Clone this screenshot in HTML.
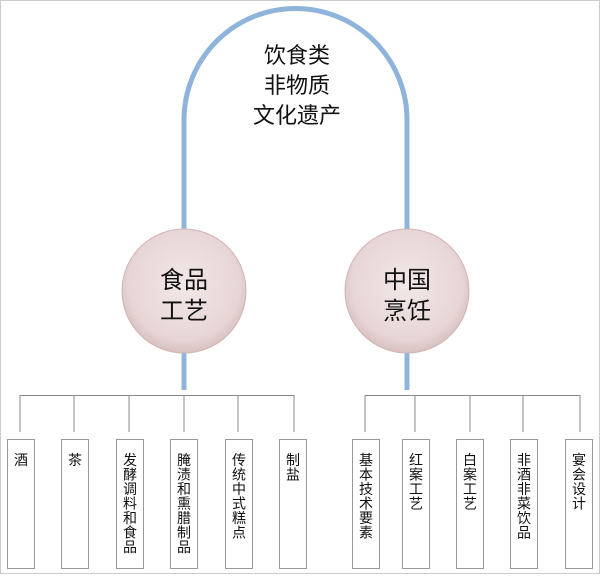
<!DOCTYPE html>
<html><head><meta charset="utf-8"><style>
body{margin:0;background:#fff;}
.t{font-family:"Liberation Sans","Noto Sans CJK SC",sans-serif;}
</style></head><body>
<svg width="600" height="574" xmlns="http://www.w3.org/2000/svg" class="t">
<defs><radialGradient id="g" cx="50%" cy="45%" r="55%"><stop offset="0" stop-color="#f2e8e8"/><stop offset="0.8" stop-color="#e8d6d6"/><stop offset="1" stop-color="#d8c0c0"/></radialGradient></defs>
<rect x="0.5" y="0.5" width="599" height="573" fill="#fff" stroke="#ccc"/>
<path d="M184,240 V120 A111.5,111.5 0 0 1 407,120 V240" fill="none" stroke="#8fb4dc" stroke-width="5"/>
<line x1="184" y1="350" x2="184" y2="390" stroke="#8fb4dc" stroke-width="5"/>
<line x1="407" y1="350" x2="407" y2="390" stroke="#8fb4dc" stroke-width="5"/>
<g font-size="22" text-anchor="middle" fill="#111">
<text x="297" y="63">饮食类</text><text x="297" y="93">非物质</text><text x="297" y="123">文化遗产</text></g>
<circle cx="184" cy="291" r="62" fill="url(#g)" stroke="#d0b4b4"/>
<circle cx="407" cy="291" r="62" fill="url(#g)" stroke="#d0b4b4"/>
<g font-size="24" text-anchor="middle" fill="#111">
<text x="184" y="288">食品</text><text x="184" y="319">工艺</text>
<text x="407" y="288">中国</text><text x="407" y="319">烹饪</text></g>
<g stroke="#888" stroke-width="1" fill="none">
<path d="M20,395.5 H294 M20,395 V432 M74,395 V432 M129,395 V432 M184,395 V432 M238,395 V432 M294,395 V432"/>
<path d="M365,395.5 H580 M365,395 V432 M415,395 V432 M470,395 V432 M523,395 V432 M580,395 V432"/>
</g>
<g fill="#fff" stroke="#999">
<rect x="7.5" y="439.5" width="27" height="129"/><rect x="61.5" y="439.5" width="27" height="129"/>
<rect x="116.5" y="439.5" width="27" height="129"/><rect x="170.5" y="439.5" width="27" height="129"/>
<rect x="225.5" y="439.5" width="27" height="129"/><rect x="279.5" y="439.5" width="27" height="129"/>
<rect x="352.5" y="439.5" width="27" height="129"/><rect x="402.5" y="439.5" width="27" height="129"/>
<rect x="456.5" y="439.5" width="27" height="129"/><rect x="510.5" y="439.5" width="27" height="129"/>
<rect x="565.5" y="439.5" width="27" height="129"/>
</g>
<g font-size="14" fill="#111" text-anchor="middle">
<text x="21" y="465">酒</text>
<text x="75" y="465">茶</text>
<text x="130" y="465"><tspan x="130">发</tspan><tspan x="130" dy="14.5">酵</tspan><tspan x="130" dy="14.5">调</tspan><tspan x="130" dy="14.5">料</tspan><tspan x="130" dy="14.5">和</tspan><tspan x="130" dy="14.5">食</tspan><tspan x="130" dy="14.5">品</tspan></text>
<text x="184" y="465"><tspan x="184">腌</tspan><tspan x="184" dy="14.5">渍</tspan><tspan x="184" dy="14.5">和</tspan><tspan x="184" dy="14.5">熏</tspan><tspan x="184" dy="14.5">腊</tspan><tspan x="184" dy="14.5">制</tspan><tspan x="184" dy="14.5">品</tspan></text>
<text x="239" y="465"><tspan x="239">传</tspan><tspan x="239" dy="14.5">统</tspan><tspan x="239" dy="14.5">中</tspan><tspan x="239" dy="14.5">式</tspan><tspan x="239" dy="14.5">糕</tspan><tspan x="239" dy="14.5">点</tspan></text>
<text x="293" y="465"><tspan x="293">制</tspan><tspan x="293" dy="14.5">盐</tspan></text>
<text x="366" y="465"><tspan x="366">基</tspan><tspan x="366" dy="14.5">本</tspan><tspan x="366" dy="14.5">技</tspan><tspan x="366" dy="14.5">术</tspan><tspan x="366" dy="14.5">要</tspan><tspan x="366" dy="14.5">素</tspan></text>
<text x="416" y="465"><tspan x="416">红</tspan><tspan x="416" dy="14.5">案</tspan><tspan x="416" dy="14.5">工</tspan><tspan x="416" dy="14.5">艺</tspan></text>
<text x="470" y="465"><tspan x="470">白</tspan><tspan x="470" dy="14.5">案</tspan><tspan x="470" dy="14.5">工</tspan><tspan x="470" dy="14.5">艺</tspan></text>
<text x="524" y="465"><tspan x="524">非</tspan><tspan x="524" dy="14.5">酒</tspan><tspan x="524" dy="14.5">非</tspan><tspan x="524" dy="14.5">菜</tspan><tspan x="524" dy="14.5">饮</tspan><tspan x="524" dy="14.5">品</tspan></text>
<text x="579" y="465"><tspan x="579">宴</tspan><tspan x="579" dy="14.5">会</tspan><tspan x="579" dy="14.5">设</tspan><tspan x="579" dy="14.5">计</tspan></text>
</g>
</svg>
</body></html>
